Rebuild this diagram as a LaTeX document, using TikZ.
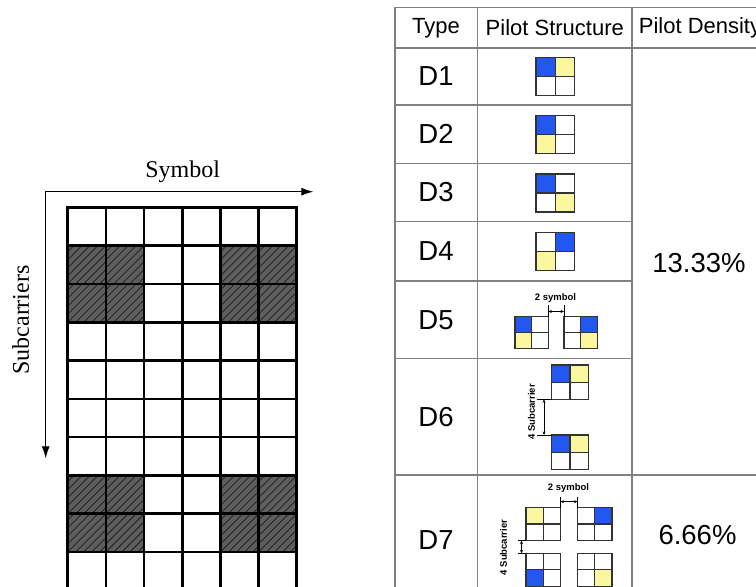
\documentclass[tikz,border=0pt]{standalone}
\usepackage{fontspec}
\setmainfont{Liberation Serif}
\setsansfont{Liberation Sans}
\usetikzlibrary{arrows.meta}
\definecolor{pb}{HTML}{2257F0}
\definecolor{py}{HTML}{FBF79E}
\definecolor{hatchfill}{HTML}{5E5E5E}
\definecolor{tblline}{HTML}{808080}
\definecolor{iconln}{HTML}{333333}
\tikzset{
  gridline/.style={line width=2.6pt, black, line cap=rect},
  hatchline/.style={line width=0.9pt, black!85},
  axisline/.style={line width=1pt, black, {Latex[length=12pt,width=8pt]}-{Latex[length=12pt,width=8pt]}},
  tbl/.style={line width=1.4pt, tblline},
  iconline/.style={line width=1.3pt, iconln},
  dimline/.style={line width=0.8pt, black},
  dimarrow/.style={line width=0.8pt, black, {Stealth[length=3.5pt,width=3pt]}-{Stealth[length=3.5pt,width=3pt]}},
  hdr/.style={font=\sffamily\fontsize{22}{25}\selectfont, inner sep=0pt},
  lbl/.style={font=\sffamily\fontsize{27.5}{30}\selectfont, inner sep=0pt},
  small/.style={font=\sffamily\bfseries\fontsize{9.5}{11}\selectfont, inner sep=0pt},
  axlbl/.style={font=\fontsize{24}{27}\selectfont, inner sep=0pt}
}
% x y w h tl tr bl br
\newcommand{\pilot}[8]{%
  \begin{scope}[shift={(#1,#2)}]
    \fill[#5] (0,0) rectangle (#3/2,#4/2);
    \fill[#6] (#3/2,0) rectangle (#3,#4/2);
    \fill[#7] (0,#4/2) rectangle (#3/2,#4);
    \fill[#8] (#3/2,#4/2) rectangle (#3,#4);
    \draw[iconline] (0,0) rectangle (#3,#4);
    \draw[iconline] (#3/2,0) -- (#3/2,#4) (0,#4/2) -- (#3,#4/2);
  \end{scope}}
\begin{document}
\begin{tikzpicture}[x=1pt,y=-1pt]
\useasboundingbox (0,0) rectangle (756,587);
\fill[white] (0,0) rectangle (756,587);
\clip (0,0) rectangle (756,587);

% ---------------- left grid ----------------
\foreach \r in {1,2,7,8} {
  \foreach \c in {0,1,4,5} {
    \begin{scope}[shift={(67.7+\c*38.17, 207.3+\r*38.3)}]
      \clip (0,0) rectangle (38.17,38.3);
      \fill[hatchfill] (0,0) rectangle (38.17,38.3);
      \foreach \k in {-40,-32,...,40} \draw[hatchline] (\k,38.3) -- (\k+38.3,0);
    \end{scope}
  }
}
\foreach \c in {0,...,6} \draw[gridline] (67.7+\c*38.17,207.3) -- (67.7+\c*38.17,600);
\foreach \r in {0,...,9} \draw[gridline] (67.7,207.3+\r*38.3) -- (296.7,207.3+\r*38.3);

\coordinate (corner) at (45.7,191.7);
\coordinate (xend) at (313.3,191.7);
\coordinate (yend) at (45.7,458.3);
\draw[axisline] (yend) -- (corner) -- (xend);
\node[axlbl] (symlbl) at (182.7,171.7) {Symbol};
\node[axlbl, rotate=90] (sublbl) at (20.7,320) {Subcarriers};

% ---------------- table ----------------
\draw[tbl] (395,7.3) -- (760,7.3);
\draw[tbl] (395,48) -- (760,48);
\foreach \xx in {395,477.5,632} \draw[tbl] (\xx,7.3) -- (\xx,600);
\foreach \yy in {105,163.3,221.7,281,358.3} \draw[tbl] (395,\yy) -- (632,\yy);
\draw[tbl] (395,475) -- (760,475);

\node[hdr] (htype) at (436,28) {Type};
\node[hdr] (hstruct) at (554.8,28) {Pilot Structure};
\node[hdr] (hdens) at (700,28) {Pilot Density};

\node[lbl] (d1) at (436,76.5) {D1};
\node[lbl] (d2) at (436,134.2) {D2};
\node[lbl] (d3) at (436,192.5) {D3};
\node[lbl] (d4) at (436,251.4) {D4};
\node[lbl] (d5) at (436,319.7) {D5};
\node[lbl] (d6) at (436,416.7) {D6};
\node[lbl] (d7) at (436,540) {D7};

\node[lbl] (p1) at (699,263) {13.33\%};
\node[lbl] (p2) at (697.5,535) {6.66\%};

% icons D1-D4
\pilot{536}{57.5}{38.3}{38}{pb}{py}{white}{white}
\pilot{536}{115.5}{38.3}{38}{pb}{white}{py}{white}
\pilot{536}{174}{38.3}{38}{pb}{white}{white}{py}
\pilot{536}{232.5}{38.3}{38}{white}{pb}{py}{white}

% D5
\pilot{515}{316.5}{33.3}{32}{pb}{white}{py}{white}
\pilot{564}{316.5}{33.3}{32}{white}{pb}{white}{py}
\coordinate (d5a) at (548.3,305);
\coordinate (d5b) at (564,305);
\draw[dimline] (d5a) -- (548.3,316.5);
\draw[dimline] (d5b) -- (564,316.5);
\coordinate (d5l) at (548.3,311.5);
\coordinate (d5r) at (564,311.5);
\draw[dimarrow] (d5l) -- (d5r);
\node[small] (d5t) at (555.5,298.5) {2 symbol};

% D6
\pilot{551.7}{365}{36.6}{34.3}{pb}{py}{white}{white}
\pilot{551.7}{435}{36.6}{34.3}{pb}{py}{white}{white}
\draw[dimline] (536.7,399.3) -- (551.7,399.3);
\draw[dimline] (536.7,435) -- (551.7,435);
\coordinate (d6u) at (544,399.3);
\coordinate (d6d) at (544,435);
\draw[dimarrow] (d6u) -- (d6d);
\node[small, rotate=90] (d6t) at (531.5,412) {4 Subcarrier};

% D7
\pilot{526}{507.5}{34.5}{33}{py}{white}{white}{white}
\pilot{577.5}{507.5}{34.5}{33}{white}{pb}{white}{white}
\pilot{526}{553.3}{34.5}{33}{white}{white}{pb}{white}
\pilot{577.5}{553.3}{34.5}{33}{white}{white}{white}{py}
\draw[dimline] (560.5,497) -- (560.5,507.5);
\draw[dimline] (577.5,497) -- (577.5,507.5);
\coordinate (d7l) at (560.5,501.7);
\coordinate (d7r) at (577.5,501.7);
\draw[dimarrow] (d7l) -- (d7r);
\node[small] (d7t) at (568.5,488.3) {2 symbol};
\draw[dimline] (518,540.5) -- (526,540.5);
\draw[dimline] (518,553.3) -- (526,553.3);
\coordinate (d7u) at (521.5,540.5);
\coordinate (d7d) at (521.5,553.3);
\draw[dimarrow] (d7u) -- (d7d);
\node[small, rotate=90] (d7s) at (503.5,547.5) {4 Subcarrier};
\end{tikzpicture}
\end{document}
